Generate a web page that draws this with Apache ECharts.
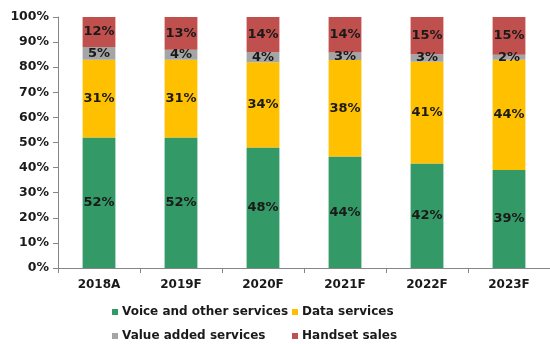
<!DOCTYPE html>
<html>
<head>
<meta charset="utf-8">
<script src="https://cdn.jsdelivr.net/npm/echarts@6/dist/echarts.min.js"></script>
<style>
  html, body { margin: 0; padding: 0; background: #fff; }
  #chart { width: 550px; height: 344px; }
</style>
</head>
<body>
<div id="chart"></div>
<script>
// Revenue mix by year (shares in %)
const years = ['2018A', '2019F', '2020F', '2021F', '2022F', '2023F'];
const voice = [52, 52, 48, 44, 42, 39];
const data = [31, 31, 34, 38, 41, 44];
const valueAdded = [5, 4, 4, 3, 3, 2];
const handset = [12, 13, 14, 14, 15, 15];
const yTicks = [0, 10, 20, 30, 40, 50, 60, 70, 80, 90, 100];

const seriesDefs = [
  { name: 'Voice and other services', values: voice, color: '#339966' },
  { name: 'Data services', values: data, color: '#ffc000' },
  { name: 'Value added services', values: valueAdded, color: '#a5a5a5' },
  { name: 'Handset sales', values: handset, color: '#c0504d' }
];

// each column is stacked to a full 100%
const totals = years.map((_, i) => seriesDefs.reduce((s, d) => s + d.values[i], 0));

const font = 'DejaVu Sans';
const textColor = '#1a1a1a';

// legend laid out as a 2 x 2 grid
const legendSlots = [
  { left: 112, top: 306 },
  { left: 292, top: 306 },
  { left: 112, top: 330 },
  { left: 292, top: 330 }
];
const legends = seriesDefs.map((d, i) => ({
  data: [d.name],
  left: legendSlots[i].left, top: legendSlots[i].top,
  itemWidth: 6, itemHeight: 6, icon: 'rect', padding: 0, itemGap: 0,
  textStyle: { fontFamily: font, fontWeight: 'bold', fontSize: 12, color: textColor, padding: [0, 0, 0, -1] }
}));

const chart = echarts.init(document.getElementById('chart'));
chart.setOption({
  animation: false,
  grid: { left: 58, right: -3, top: 17, bottom: 76 },
  legend: legends,
  xAxis: {
    type: 'category',
    data: years,
    axisLine: { lineStyle: { color: '#868686' } },
    axisTick: { show: true, alignWithLabel: false, length: 5, lineStyle: { color: '#868686' } },
    axisLabel: { fontFamily: font, fontWeight: 'bold', fontSize: 12, color: textColor, margin: 11 }
  },
  yAxis: {
    type: 'value',
    min: yTicks[0], max: yTicks[yTicks.length - 1], interval: 10,
    splitLine: { show: false },
    axisLine: { show: true, lineStyle: { color: '#868686' } },
    axisTick: { show: true, length: 5, lineStyle: { color: '#868686' } },
    axisLabel: { fontFamily: font, fontWeight: 'bold', fontSize: 12.5, color: textColor, margin: 9,
      formatter: v => v + '%' }
  },
  series: seriesDefs.map(d => ({
    name: d.name,
    type: 'bar',
    stack: 'mix',
    barWidth: '40%',
    itemStyle: { color: d.color },
    label: {
      show: true, position: 'inside',
      fontFamily: font, fontWeight: 'bold', fontSize: 13, color: textColor,
      formatter: p => d.values[p.dataIndex] + '%'
    },
    data: d.values.map((v, i) => v * 100 / totals[i])
  }))
});
</script>
</body>
</html>
